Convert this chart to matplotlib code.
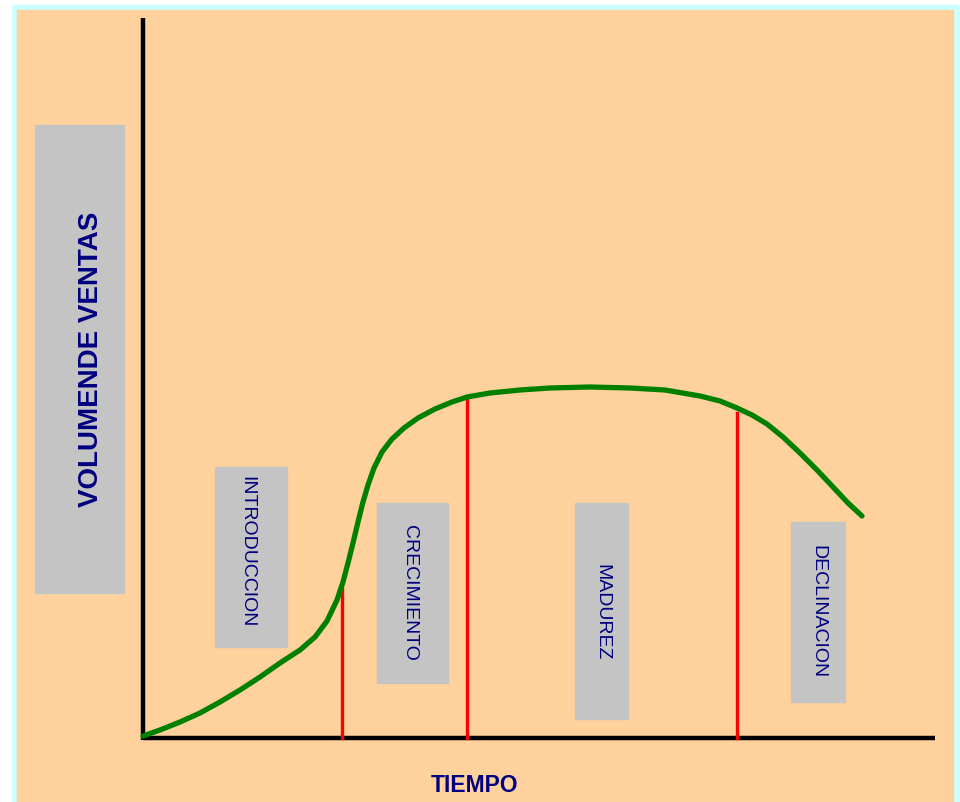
import matplotlib.pyplot as plt
from matplotlib.patches import Rectangle

# ciclo de vida del producto: tiempo vs volumen de ventas
tiempo = [0, 17, 37, 57, 77, 97, 117, 137, 157, 172, 184, 194, 200, 205,
          210, 215, 220, 225, 231, 239, 249, 261, 275, 292, 309, 324, 347,
          377, 407, 447, 487, 522, 557, 577, 594, 609, 624, 640, 657, 674,
          690, 705, 719]
ventas = [2, 8, 16, 25, 36, 48, 61, 75, 88, 101, 117, 138, 156, 175,
          195, 216, 236, 253, 270, 286, 299, 310, 320, 329, 336, 341, 345,
          348, 350, 351, 350, 348, 342, 337, 330, 323, 314, 301, 285, 268,
          251, 235, 222]

# limites entre etapas (tiempo, altura de la linea roja)
limites_t = [199, 324, 594]
limites_v = [150, 341, 325]

etapas = ['INTRODUCCION', 'CRECIMIENTO', 'MADUREZ', 'DECLINACION']
# cajas grises: (t izquierda, v inferior, ancho, alto)
cajas = [(72, 91, 72, 180), (234, 55, 71, 180), (432, 19, 53, 216), (648, 36, 54, 180)]
centros = [(104, 186), (267, 145), (459, 126), (675, 126)]

FONDO = '#FFD19C'
BORDE = '#CCFFFF'
GRIS = '#C4C4C4'
AZUL = '#000080'

fig = plt.figure(figsize=(9.6, 8.02), dpi=100, facecolor='white')
ax = fig.add_axes([0, 0, 1, 1])
ax.set_xlim(-143, 817)
ax.set_ylim(-64, 738)
ax.axis('off')

# marco celeste y fondo
ax.add_patch(Rectangle((-131, -70), 946, 803, color=BORDE, zorder=0))
ax.add_patch(Rectangle((-126, -70), 936, 798, color=FONDO, zorder=0))

# caja del eje vertical
ax.add_patch(Rectangle((-108, 145), 89, 468, color=GRIS, zorder=1))
ax.text(-52, 379, 'VOLUMENDE VENTAS', rotation=90, ha='center', va='center',
        color=AZUL, fontsize=20, fontweight='bold', family=['Liberation Sans', 'DejaVu Sans'], zorder=2)

# etapas
for (x0, y0, w, h), (tc, vc), nombre in zip(cajas, centros, etapas):
    ax.add_patch(Rectangle((x0, y0), w, h, color=GRIS, zorder=1))
    ax.text(tc, vc, nombre, rotation=270, ha='center', va='center',
            color=AZUL, fontsize=14, family=['Liberation Sans', 'DejaVu Sans'], zorder=2)

# ejes
ax.plot([0, 0], [-2, 720], color='black', lw=3.2, solid_capstyle='butt', zorder=3)
ax.plot([0, 792], [0, 0], color='black', lw=3.2, solid_capstyle='butt', zorder=3)

# lineas rojas entre etapas
for t, v in zip(limites_t, limites_v):
    ax.plot([t, t], [0, v], color='#FF0000', lw=2.4, zorder=4)

# curva de ventas
ax.plot(tiempo, ventas, color='#008000', lw=3.8, solid_capstyle='round',
        solid_joinstyle='round', zorder=5)

ax.text(332, -47, 'TIEMPO', ha='center', va='center', color=AZUL, fontsize=16.5,
        fontweight='bold', family=['Liberation Sans', 'DejaVu Sans'], zorder=2)

fig.savefig('out.png', dpi=100, facecolor='white')
